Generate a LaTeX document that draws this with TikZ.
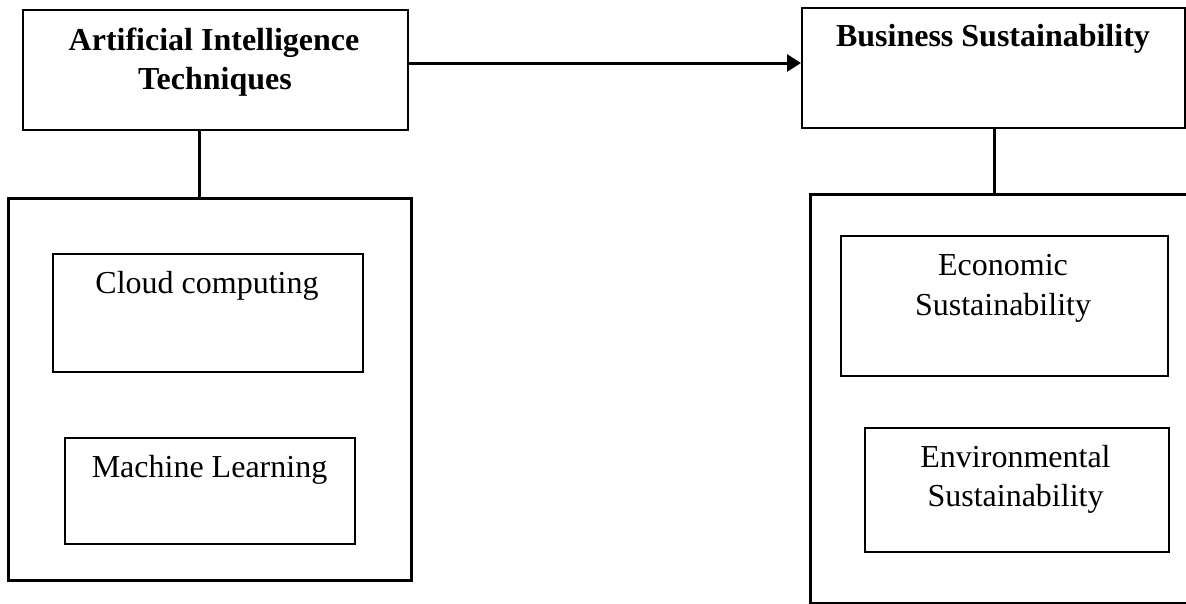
\documentclass[tikz,border=0pt]{standalone}
\usepackage{fontspec}
\setmainfont{Liberation Serif}
\usetikzlibrary{arrows.meta}
\tikzset{
  box/.style={draw, line width=2.2pt, inner sep=0pt, anchor=north west},
  bigbox/.style={draw, line width=2.8pt, inner sep=0pt, anchor=north west},
  lbl/.style={anchor=base, inner sep=0pt, font=\fontsize{32}{38}\selectfont},
  blbl/.style={anchor=base, inner sep=0pt, font=\fontsize{32}{38}\selectfont\bfseries},
  conn/.style={line width=3pt},
}
\begin{document}
\begin{tikzpicture}[x=1pt,y=-1pt]
\useasboundingbox (0,0) rectangle (1186,603);
\clip (0,0) rectangle (1186,603);
% boxes
\node[box, minimum width=385pt, minimum height=120pt] (ai) at (22,9) {};
\node[box, minimum width=383pt, minimum height=120pt] (bs) at (801,7) {};
\node[bigbox, minimum width=403pt, minimum height=382pt] (lbig) at (7,197) {};
\node[bigbox, minimum width=390pt, minimum height=409pt] (rbig) at (809,193) {};
\node[box, minimum width=310pt, minimum height=118pt] (cc) at (52,253) {};
\node[box, minimum width=290pt, minimum height=106pt] (ml) at (64,437) {};
\node[box, minimum width=327pt, minimum height=140pt] (ec) at (840,235) {};
\node[box, minimum width=304pt, minimum height=124pt] (en) at (864,427) {};
% labels
\node[blbl] (ai1) at (214,50) {Artificial Intelligence};
\node[blbl] (ai2) at (215,89) {Techniques};
\node[blbl] (bs1) at (993,46) {Business Sustainability};
\node[lbl] (cc1) at (207,293) {Cloud computing};
\node[lbl] (ml1) at (209.5,477) {Machine Learning};
\node[lbl] (ec1) at (1003,275) {Economic};
\node[lbl] (ec2) at (1003,315) {Sustainability};
\node[lbl] (en1) at (1015.5,467) {Environmental};
\node[lbl] (en2) at (1015.5,506) {Sustainability};
% connectors
\coordinate (ay) at (0,63);
\coordinate (lx) at (199.5,0);
\coordinate (rx) at (994,0);
\draw[conn, -{Triangle[length=14pt,width=17pt]}] (ai.east |- ay) -- (bs.west |- ay);
\draw[conn] (ai.south -| lx) -- (lbig.north -| lx);
\draw[conn] (bs.south -| rx) -- (rbig.north -| rx);
\end{tikzpicture}
\end{document}
